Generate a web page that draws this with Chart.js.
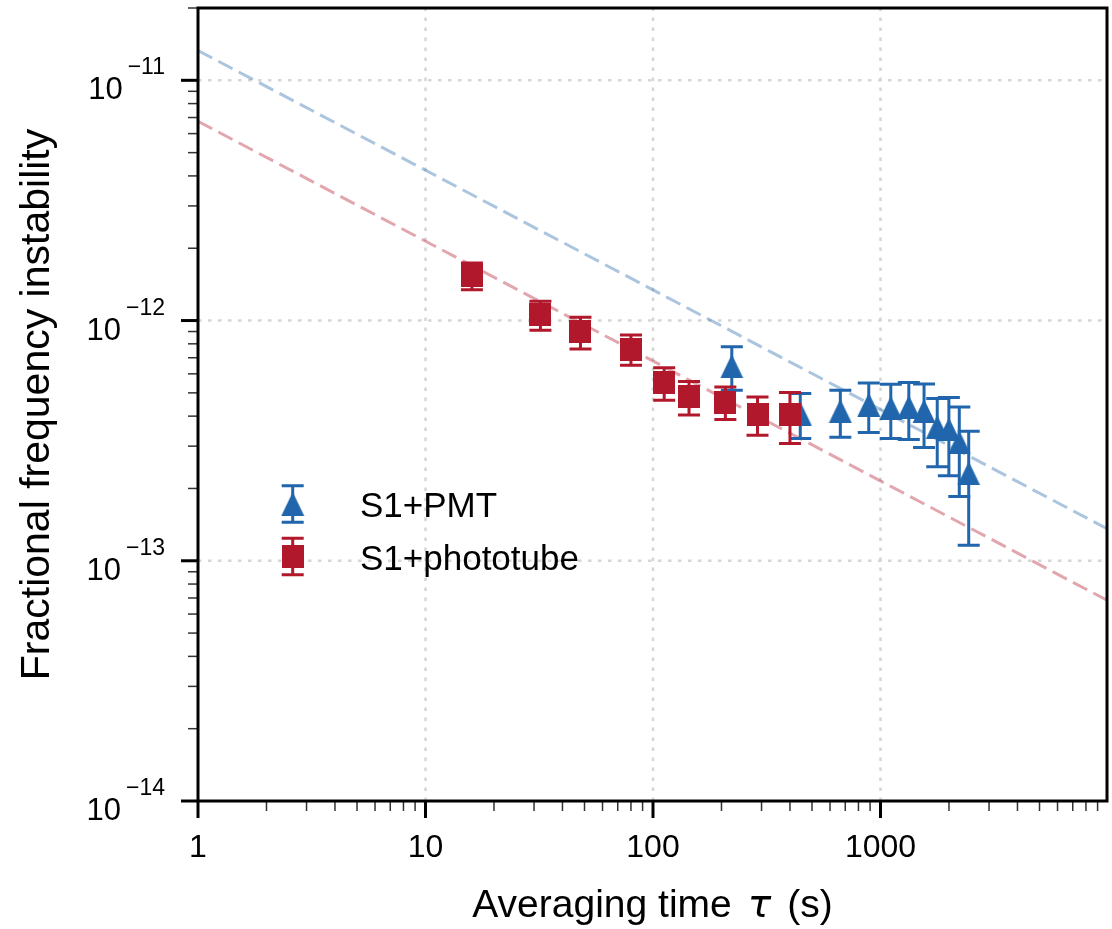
<!DOCTYPE html>
<html><head><meta charset="utf-8">
<script src="https://cdn.jsdelivr.net/npm/chart.js@4.4.1/dist/chart.umd.min.js"></script>
<style>html,body{margin:0;padding:0;background:#fff;}canvas{display:block;}</style>
</head><body>
<canvas id="c" width="1112" height="929"></canvas>
<script>
// ---- data ----
const pmtTau    = [222, 444, 666, 888, 1110, 1332, 1554, 1776, 1998, 2220, 2442];
const pmtSigma  = [6.45e-13, 4.10e-13, 4.20e-13, 4.46e-13, 4.33e-13, 4.36e-13, 4.20e-13, 3.60e-13, 3.52e-13, 3.11e-13, 2.31e-13];
const pmtErr    = [1.32e-13, 0.87e-13, 0.93e-13, 1.04e-13, 1.10e-13, 1.16e-13, 1.24e-13, 1.14e-13, 1.26e-13, 1.26e-13, 1.15e-13];
const tubeTau   = [16, 32, 48, 80, 112, 144, 208, 288, 400];
const tubeSigma = [1.54e-12, 1.057e-12, 8.97e-13, 7.61e-13, 5.51e-13, 4.81e-13, 4.58e-13, 4.07e-13, 4.05e-13];
const tubeErr   = [0.197e-12, 0.146e-12, 0.135e-12, 0.109e-12, 0.085e-12, 0.077e-12, 0.071e-12, 0.074e-12, 0.097e-12];
const fitTau    = [1, 9900];
const pmtFit    = [1.33e-11, 1.36e-13];
const tubeFit   = [6.75e-12, 6.85e-14];
const xTickLabels = ['1', '10', '100', '1000'];
const yTickValues = [1e-11, 1e-12, 1e-13, 1e-14];
const yTickExps   = ['\u221211', '\u221212', '\u221213', '\u221214'];
const seriesNames = ['S1+PMT', 'S1+phototube'];
const xTitleParts = ['Averaging time', '\u03c4', '(s)'];

const BLUE = '#2166ac', RED = '#b2182b';
const BLUE_L = 'rgba(33,102,172,0.38)', RED_L = 'rgba(178,24,43,0.38)';
const FONT = "'Liberation Sans', Arial, sans-serif";

function makeTriangle(){
  const c = document.createElement('canvas'); c.width = 24; c.height = 24;
  const g = c.getContext('2d'); g.fillStyle = BLUE;
  g.beginPath(); g.moveTo(12, 0); g.lineTo(0.5, 24); g.lineTo(23.5, 24); g.closePath(); g.fill();
  return c;
}
function makeSquare(){
  const c = document.createElement('canvas'); c.width = 22; c.height = 23;
  const g = c.getContext('2d'); g.fillStyle = RED; g.fillRect(0, 0, 22, 23);
  return c;
}
const triImg = makeTriangle(), sqImg = makeSquare();

const errorBars = {
  id: 'errorBars',
  beforeDatasetDraw(chart, args) {
    const ds = chart.data.datasets[args.index];
    if (!ds.errors) return;
    const xs = chart.scales.x, ys = chart.scales.y, ctx = chart.ctx;
    ctx.save();
    ctx.strokeStyle = ds.errColor; ctx.lineWidth = 3; ctx.lineCap = 'butt';
    ds.data.forEach((p, i) => {
      const e = ds.errors[i];
      const px = xs.getPixelForValue(p.x);
      const yT = ys.getPixelForValue(p.y + e), yB = ys.getPixelForValue(p.y - e);
      ctx.beginPath();
      ctx.moveTo(px, yT); ctx.lineTo(px, yB);
      ctx.moveTo(px - 11, yT); ctx.lineTo(px + 11, yT);
      ctx.moveTo(px - 11, yB); ctx.lineTo(px + 11, yB);
      ctx.stroke();
    });
    ctx.restore();
  }
};

function minorVals(min, max){
  const out = [];
  for (let e = Math.floor(Math.log10(min)); e <= Math.ceil(Math.log10(max)); e++) {
    for (let m = 1; m <= 9; m++) {
      const v = m * Math.pow(10, e);
      if (v >= min * 0.999 && v <= max * 1.001) out.push({v, major: m === 1});
    }
  }
  return out;
}

const axesDecor = {
  id: 'axesDecor',
  beforeDatasetsDraw(chart) {
    const {ctx, chartArea: a} = chart; const xs = chart.scales.x, ys = chart.scales.y;
    ctx.save();
    ctx.strokeStyle = '#d6d6d6'; ctx.lineWidth = 2.5; ctx.setLineDash([3.5, 6.5]);
    [10, 100, 1000].forEach(v => { const x = xs.getPixelForValue(v);
      ctx.beginPath(); ctx.moveTo(x, a.bottom); ctx.lineTo(x, a.top); ctx.stroke(); });
    [1e-11, 1e-12, 1e-13].forEach(v => { const y = ys.getPixelForValue(v);
      ctx.beginPath(); ctx.moveTo(a.left, y); ctx.lineTo(a.right, y); ctx.stroke(); });
    ctx.restore();
  },
  afterDatasetsDraw(chart) {
    const {ctx, chartArea: a} = chart; const xs = chart.scales.x, ys = chart.scales.y;
    ctx.save();
    minorVals(xs.min, xs.max).forEach(t => {
      const x = xs.getPixelForValue(t.v);
      ctx.strokeStyle = t.major ? '#000' : '#333'; ctx.lineWidth = t.major ? 3 : 1.5;
      ctx.beginPath(); ctx.moveTo(x, a.bottom); ctx.lineTo(x, a.bottom + (t.major ? 17 : 10)); ctx.stroke();
    });
    minorVals(ys.min, ys.max).forEach(t => {
      const y = ys.getPixelForValue(t.v);
      ctx.strokeStyle = t.major ? '#000' : '#333'; ctx.lineWidth = t.major ? 3 : 1.5;
      ctx.beginPath(); ctx.moveTo(a.left, y); ctx.lineTo(a.left - (t.major ? 17 : 10), y); ctx.stroke();
    });
    ctx.strokeStyle = '#000'; ctx.lineWidth = 3;
    ctx.strokeRect(a.left, a.top, a.right - a.left, a.bottom - a.top);
    ctx.fillStyle = '#000'; ctx.textBaseline = 'alphabetic'; ctx.textAlign = 'right';
    yTickValues.forEach((v, i) => {
      const y = ys.getPixelForValue(v);
      ctx.font = '23px ' + FONT;
      ctx.fillText(yTickExps[i], 165, y - 6);
      const w = ctx.measureText(yTickExps[i]).width;
      ctx.font = '31px ' + FONT;
      ctx.fillText('10', 165 - w - 5, y + 19);
    });
    // x axis title with italic tau
    const f1 = '39px ' + FONT, f2 = 'italic 39px "DejaVu Sans", ' + FONT;
    ctx.textAlign = 'left';
    ctx.font = f1; const w0 = ctx.measureText(xTitleParts[0]).width, w2 = ctx.measureText(xTitleParts[2]).width;
    ctx.font = f2; const w1 = ctx.measureText(xTitleParts[1]).width;
    const gap = 16;
    const tot = w0 + w1 + w2 + 2 * gap;
    let tx = (a.left + a.right) / 2 - tot / 2; const ty = 917;
    ctx.font = f1; ctx.fillText(xTitleParts[0], tx, ty); tx += w0 + gap;
    ctx.font = f2; ctx.fillText(xTitleParts[1], tx, ty); tx += w1 + gap;
    ctx.font = f1; ctx.fillText(xTitleParts[2], tx, ty);
    // legend
    const lx = 292.7;
    const items = [{y: 504, img: triImg, col: BLUE}, {y: 556.5, img: sqImg, col: RED}];
    items.forEach((it, i) => {
      ctx.strokeStyle = it.col; ctx.lineWidth = 3;
      ctx.beginPath();
      ctx.moveTo(lx, it.y - 18.3); ctx.lineTo(lx, it.y + 18.3);
      ctx.moveTo(lx - 11, it.y - 18.3); ctx.lineTo(lx + 11, it.y - 18.3);
      ctx.moveTo(lx - 11, it.y + 18.3); ctx.lineTo(lx + 11, it.y + 18.3);
      ctx.stroke();
      ctx.drawImage(it.img, lx - it.img.width / 2, it.y - it.img.height / 2);
      ctx.font = '35px ' + FONT; ctx.textAlign = 'left'; ctx.fillStyle = '#000';
      ctx.fillText(seriesNames[i], 360, it.y + 13);
    });
    ctx.restore();
  }
};

new Chart(document.getElementById('c'), {
  type: 'scatter',
  data: { datasets: [
    { label: seriesNames[1], data: tubeTau.map((t, i) => ({x: t, y: tubeSigma[i]})),
      errors: tubeErr, errColor: RED, pointStyle: sqImg, pointRadius: 12,
      backgroundColor: RED, borderColor: RED, order: 0 },
    { label: seriesNames[0], data: pmtTau.map((t, i) => ({x: t, y: pmtSigma[i]})),
      errors: pmtErr, errColor: BLUE, pointStyle: triImg, pointRadius: 12,
      backgroundColor: BLUE, borderColor: BLUE, order: 1 },
    { type: 'line', label: 'PMT fit', data: fitTau.map((t, i) => ({x: t, y: pmtFit[i]})),
      borderColor: BLUE_L, borderWidth: 3, borderDash: [16, 7], pointRadius: 0, fill: false, order: 2 },
    { type: 'line', label: 'phototube fit', data: fitTau.map((t, i) => ({x: t, y: tubeFit[i]})),
      borderColor: RED_L, borderWidth: 3, borderDash: [16, 7], pointRadius: 0, fill: false, order: 3 }
  ]},
  options: {
    responsive: false, animation: false, devicePixelRatio: 1,
    layout: { autoPadding: false, padding: { left: 0, right: 5, top: 8, bottom: 0 } },
    plugins: { legend: { display: false }, tooltip: { enabled: false } },
    scales: {
      x: { type: 'logarithmic', min: 1, max: 9900, position: 'bottom',
        afterFit(s) { s.height = 128; s.paddingLeft = 0; s.paddingRight = 0; },
        grid: { display: false }, border: { display: false },
        ticks: { autoSkip: false, maxRotation: 0, padding: 20, color: '#000',
          font: { family: FONT, size: 32 },
          callback: (v) => xTickLabels.includes(String(v)) ? String(v) : '' },
        title: { display: false } },
      y: { type: 'logarithmic', min: 1e-14, max: 2e-11, position: 'left',
        afterFit(s) { s.width = 198; s.paddingTop = 0; s.paddingBottom = 0; },
        grid: { display: false }, border: { display: false },
        ticks: { display: false },
        title: { display: true, text: 'Fractional frequency instability', color: '#000',
          font: { family: FONT, size: 41 }, padding: { top: 13, bottom: 0 } } }
    }
  },
  plugins: [errorBars, axesDecor]
});
</script>
</body></html>
